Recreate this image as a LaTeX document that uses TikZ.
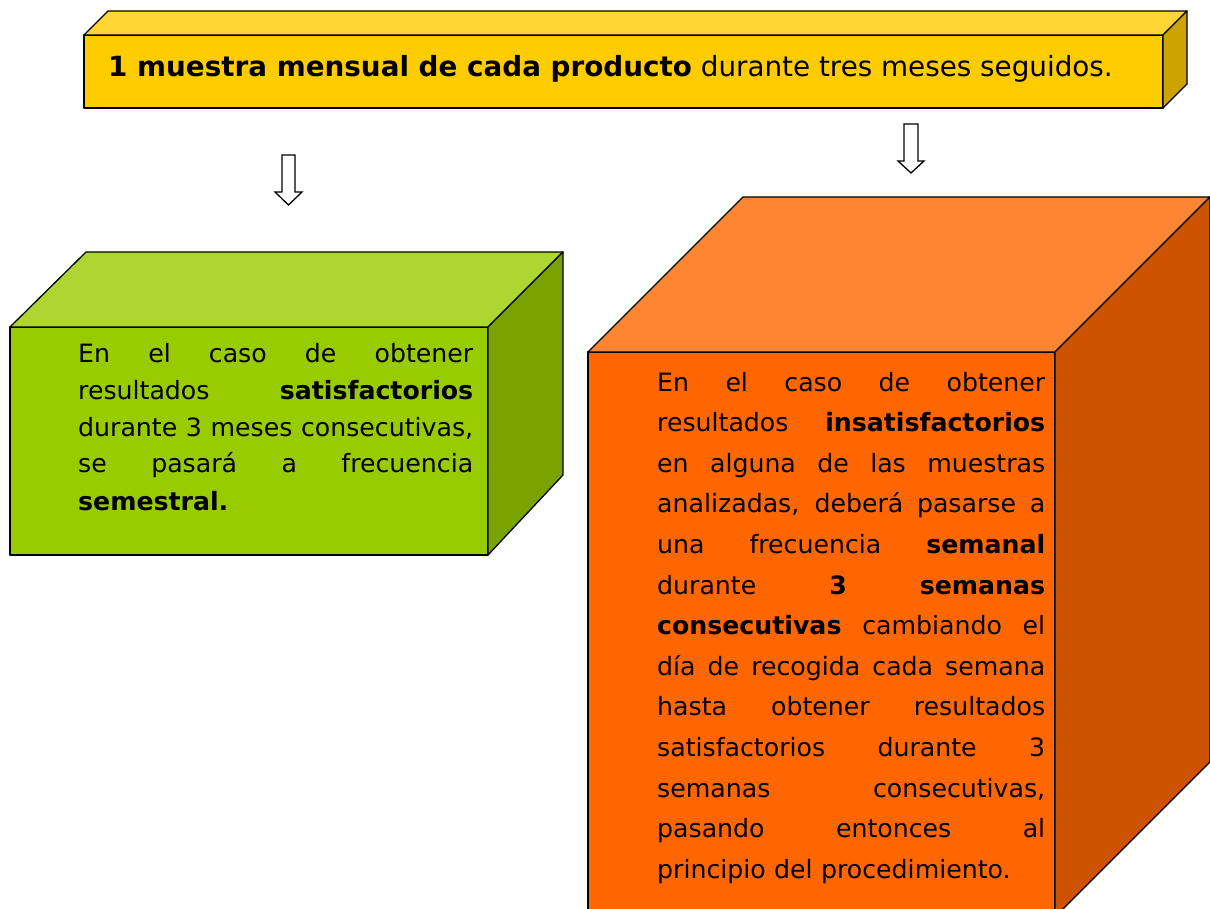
\documentclass[tikz,border=0pt]{standalone}
\usepackage{fontspec}
\setmainfont{DejaVu Sans}
\definecolor{yfront}{HTML}{FFCC00}
\definecolor{ytop}{HTML}{FFD633}
\definecolor{yside}{HTML}{CCA300}
\definecolor{gfront}{HTML}{99CC00}
\definecolor{gtop}{HTML}{ADD633}
\definecolor{gside}{HTML}{7AA300}
\definecolor{ofront}{HTML}{FF6600}
\definecolor{otop}{HTML}{FF8533}
\definecolor{oside}{HTML}{CC5200}
\newcommand\jline[2]{\leavevmode\hbox to #1{\spaceskip=.32em plus 1fil\relax #2}}
\begin{document}
\begin{tikzpicture}[x=1pt,y=-1pt,
  face/.style={draw=black, line width=1.3pt, line join=round},
  blockarrow/.style={draw=black, fill=white, line width=1.3pt, line join=miter},
  para/.style={anchor=base west, inner sep=0pt, align=left},
]
\useasboundingbox (0,0) rectangle (1210,909);
\begin{scope}
\clip (0,0) rectangle (1210,909);
% top cube
\filldraw[face, fill=yfront] (84,35) rectangle (1163,108);
\filldraw[face, fill=ytop] (84,35) -- (108,11) -- (1187,11) -- (1163,35) -- cycle;
\filldraw[face, fill=yside] (1163,35) -- (1187,11) -- (1187,84) -- (1163,108) -- cycle;
% green cube
\filldraw[face, fill=gfront] (10,327) rectangle (488,555);
\filldraw[face, fill=gtop] (10,327) -- (86,252) -- (563,252) -- (488,327) -- cycle;
\filldraw[face, fill=gside] (488,327) -- (563,252) -- (563,475) -- (488,555) -- cycle;
% orange cube
\filldraw[face, fill=ofront] (588,352) rectangle (1055,917);
\filldraw[face, fill=otop] (588,352) -- (743,197) -- (1210,197) -- (1055,352) -- cycle;
\filldraw[face, fill=oside] (1055,352) -- (1210,197) -- (1210,762) -- (1055,917) -- cycle;
\end{scope}
% arrows
\filldraw[blockarrow] (282,155) -- (295,155) -- (295,192) -- (302,192) -- (288.5,205) -- (275,192) -- (282,192) -- cycle;
\filldraw[blockarrow] (904,124) -- (918,124) -- (918,161) -- (924,161) -- (911,173) -- (898,161) -- (904,161) -- cycle;
% texts
\node[para, font=\fontsize{27.8}{33}\selectfont] (toptext) at (108,77)
  {\textbf{1 muestra mensual de cada producto} durante tres meses seguidos.};
\node[para, text width=395pt, font=\fontsize{25.2}{37}\selectfont] (greentext) at (78,362) {%
\jline{395pt}{En el caso de obtener}\\
\jline{395pt}{resultados \textbf{satisfactorios}}\\
\jline{395pt}{durante 3 meses consecutivas,}\\
\jline{395pt}{se pasará a frecuencia}\\
\textbf{semestral.}};
\node[para, text width=388pt, font=\fontsize{25.2}{40.6}\selectfont] (orangetext) at (657,391) {%
\jline{388pt}{En el caso de obtener}\\
\jline{388pt}{resultados \textbf{insatisfactorios}}\\
\jline{388pt}{en alguna de las muestras}\\
\jline{388pt}{analizadas, deberá pasarse a}\\
\jline{388pt}{una frecuencia \textbf{semanal}}\\
\jline{388pt}{durante \textbf{3 semanas}}\\
\jline{388pt}{\textbf{consecutivas} cambiando el}\\
\jline{388pt}{día de recogida cada semana}\\
\jline{388pt}{hasta obtener resultados}\\
\jline{388pt}{satisfactorios durante 3}\\
\jline{388pt}{semanas consecutivas,}\\
\jline{388pt}{pasando entonces al}\\
principio del procedimiento.};
\end{tikzpicture}
\end{document}
